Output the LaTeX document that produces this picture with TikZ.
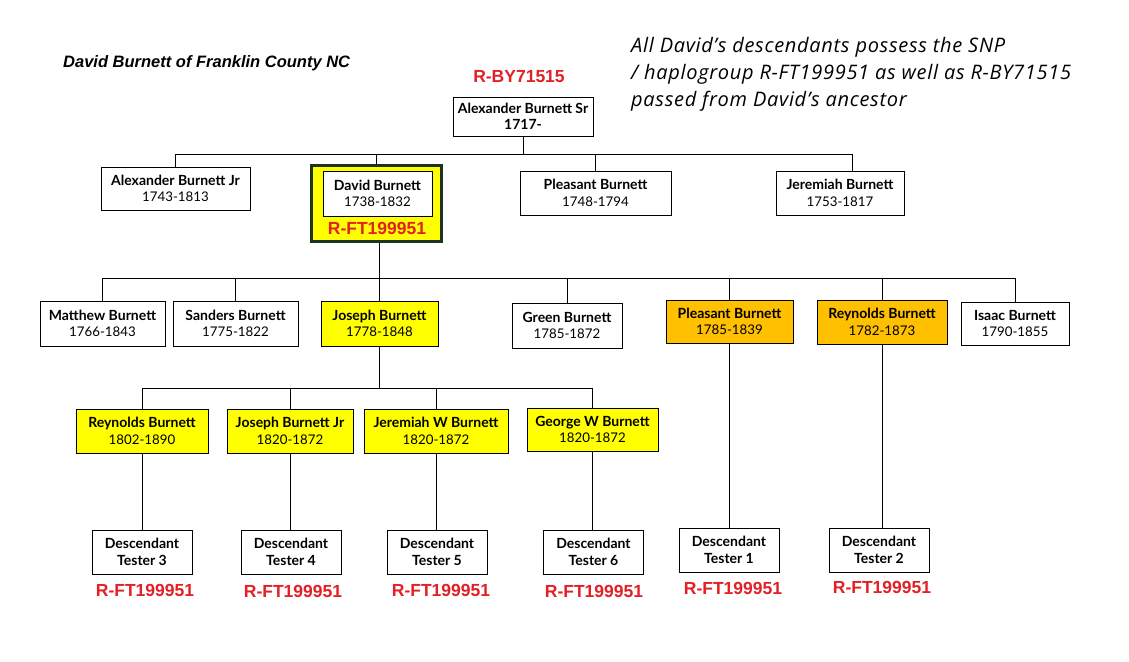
\documentclass[tikz,border=0pt]{standalone}
\usepackage{fontspec}
\setmainfont{Liberation Sans}
\newfontfamily\boxfont{Lato}
\newfontfamily\notefont[LetterSpace=3.5]{Open Sans}
\newcommand\pname[1]{{\bfseries\fontsize{14}{16.5}\selectfont #1}}
\definecolor{tred}{RGB}{226,32,38}
\definecolor{yel}{RGB}{255,255,0}
\definecolor{org}{RGB}{255,192,0}
\definecolor{dgreen}{RGB}{28,52,30}
\begin{document}
\begin{tikzpicture}[x=1pt,y=-1pt,
  pbox/.style={draw=black, line width=1pt, inner sep=0pt, align=center, fill=white,
    font=\boxfont\fontsize{13.3}{16.5}\selectfont},
  ybox/.style={pbox, fill=yel},
  obox/.style={pbox, fill=org},
  hap/.style={text=tred, inner sep=0pt, font=\bfseries\fontsize{17.5}{20}\selectfont},
  link/.style={line width=0.9pt}]
\useasboundingbox[fill=white] (0,0) rectangle (1129,661);

% texts
\node[anchor=west, inner sep=0pt, font=\bfseries\itshape\fontsize{16.5}{20}\selectfont] (title) at (63,63) {David Burnett of Franklin County NC};
\node[anchor=north west, align=left, inner sep=0pt, font=\notefont\itshape\fontsize{20}{27}\selectfont] (note) at (631,37)
  {All David’s descendants possess the SNP\\/ haplogroup R-FT199951 as well as R-BY71515\\passed from David’s ancestor};
\node[hap] (hapsr) at (519,77) {R-BY71515};

% generation 0
\node[pbox, minimum width=140pt, minimum height=39pt] (alexsr) at (523,116.5) {\pname{Alexander Burnett Sr}\\\pname{1717-}};

% generation 1
\node[pbox, minimum width=149pt, minimum height=43pt] (alexjr) at (175.5,188.5) {\pname{Alexander Burnett Jr}\\1743-1813};
\node[draw=dgreen, line width=3pt, fill=yel, minimum width=130pt, minimum height=76pt, inner sep=0pt] (davidout) at (376,203) {};
\node[pbox, minimum width=109pt, minimum height=45pt] (david) at (377.5,193.5) {\pname{David Burnett}\\1738-1832};
\node[hap] (davidhap) at (377,228) {R-FT199951};
\node[pbox, minimum width=151pt, minimum height=44pt] (pleas1) at (595.5,193) {\pname{Pleasant Burnett}\\1748-1794};
\node[pbox, minimum width=128pt, minimum height=44pt] (jer1) at (840,193) {\pname{Jeremiah Burnett}\\1753-1817};

% generation 2
\node[pbox, minimum width=125pt, minimum height=45pt] (matt) at (102.5,323.5) {\pname{Matthew Burnett}\\1766-1843};
\node[pbox, minimum width=125pt, minimum height=45pt] (sand) at (235.5,323.5) {\pname{Sanders Burnett}\\1775-1822};
\node[ybox, minimum width=117pt, minimum height=45pt] (jos) at (379.5,323.5) {\pname{Joseph Burnett}\\1778-1848};
\node[pbox, minimum width=110pt, minimum height=45pt] (green) at (567,325.5) {\pname{Green Burnett}\\1785-1872};
\node[obox, minimum width=127pt, minimum height=43pt] (pleas2) at (729.5,321.5) {\pname{Pleasant Burnett}\\1785-1839};
\node[obox, minimum width=130pt, minimum height=44pt] (reyn2) at (882,322) {\pname{Reynolds Burnett}\\1782-1873};
\node[pbox, minimum width=108pt, minimum height=43pt] (isaac) at (1015,323.5) {\pname{Isaac Burnett}\\1790-1855};

% generation 3
\node[ybox, minimum width=132pt, minimum height=44pt] (reyn3) at (142,431) {\pname{Reynolds Burnett}\\1802-1890};
\node[ybox, minimum width=126pt, minimum height=44pt] (josjr) at (290,431) {\pname{Joseph Burnett Jr}\\1820-1872};
\node[ybox, minimum width=144pt, minimum height=44pt] (jerw) at (436,431) {\pname{Jeremiah W Burnett}\\1820-1872};
\node[ybox, minimum width=131pt, minimum height=43pt] (geow) at (592.5,429.5) {\pname{George W Burnett}\\1820-1872};

% testers
\node[pbox, minimum width=100pt, minimum height=44pt] (t3) at (142,552) {\pname{Descendant}\\\pname{Tester 3}};
\node[pbox, minimum width=100pt, minimum height=44pt] (t4) at (291,552) {\pname{Descendant}\\\pname{Tester 4}};
\node[pbox, minimum width=100pt, minimum height=44pt] (t5) at (437,552) {\pname{Descendant}\\\pname{Tester 5}};
\node[pbox, minimum width=100pt, minimum height=44pt] (t6) at (593.5,552) {\pname{Descendant}\\\pname{Tester 6}};
\node[pbox, minimum width=100pt, minimum height=44pt] (t1) at (729,550) {\pname{Descendant}\\\pname{Tester 1}};
\node[pbox, minimum width=100pt, minimum height=44pt] (t2) at (879,550) {\pname{Descendant}\\\pname{Tester 2}};

\node[hap] (h3) at (145,590) {R-FT199951};
\node[hap] (h4) at (293,591) {R-FT199951};
\node[hap] (h5) at (441,590) {R-FT199951};
\node[hap] (h6) at (594,591) {R-FT199951};
\node[hap] (h1) at (733,588) {R-FT199951};
\node[hap] (h2) at (882,587) {R-FT199951};

% connectors gen 0 -> 1
\coordinate (bar1) at (0,154);
\coordinate (jer1top) at ([xshift=12pt]jer1.north);
\draw[link] (alexsr.south) -- (alexsr.south |- bar1);
\draw[link] (alexjr.north |- bar1) -- (jer1top |- bar1);
\draw[link] (alexjr.north) -- (alexjr.north |- bar1);
\draw[link] (davidout.north) -- (davidout.north |- bar1);
\draw[link] (pleas1.north) -- (pleas1.north |- bar1);
\draw[link] (jer1top) -- (jer1top |- bar1);

% connectors gen 1 -> 2
\coordinate (bar2) at (0,278);
\draw[link] (davidout.south -| jos.north) -- (jos.north |- bar2);
\draw[link] (matt.north |- bar2) -- (isaac.north |- bar2);
\foreach \n in {matt,sand,jos,green,pleas2,reyn2,isaac}
  \draw[link] (\n.north) -- (\n.north |- bar2);

% connectors gen 2 -> 3
\coordinate (bar3) at (0,388);
\draw[link] (jos.south) -- (jos.south |- bar3);
\draw[link] (reyn3.north |- bar3) -- (geow.north |- bar3);
\foreach \n in {reyn3,josjr,jerw,geow}
  \draw[link] (\n.north) -- (\n.north |- bar3);

% connectors to testers
\draw[link] (reyn3.south) -- (reyn3.south |- t3.north);
\draw[link] (josjr.south) -- (josjr.south |- t4.north);
\draw[link] (jerw.south) -- (jerw.south |- t5.north);
\draw[link] (geow.south) -- (geow.south |- t6.north);
\draw[link] (pleas2.south) -- (pleas2.south |- t1.north);
\draw[link] (reyn2.south) -- (reyn2.south |- t2.north);
\end{tikzpicture}
\end{document}
